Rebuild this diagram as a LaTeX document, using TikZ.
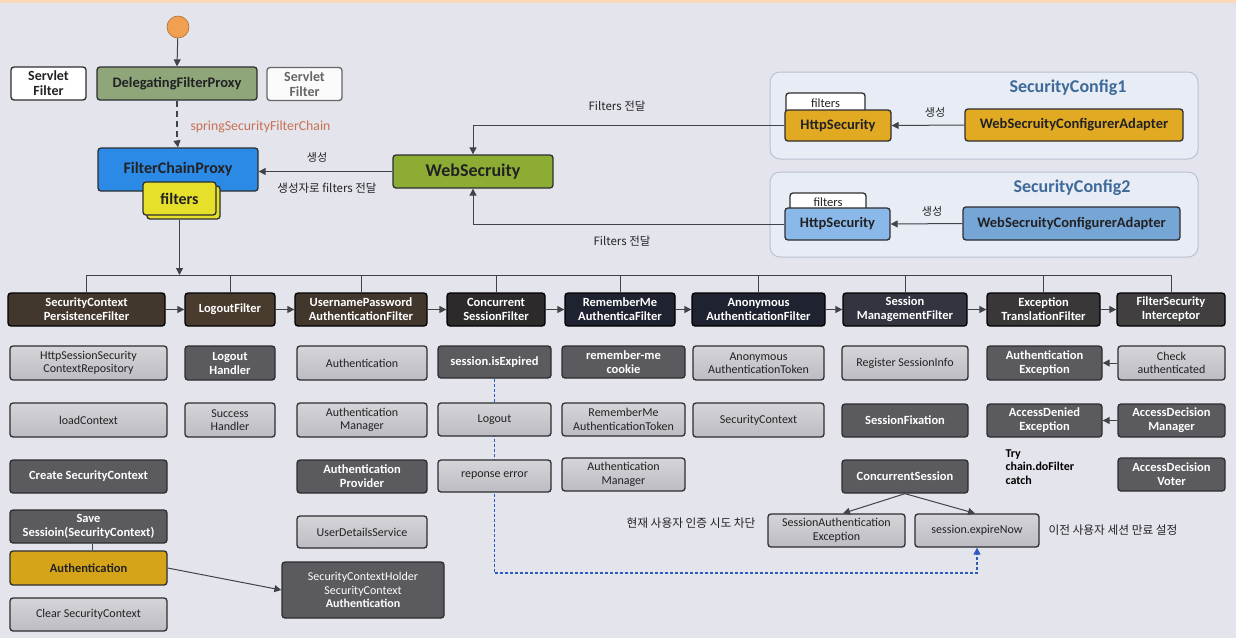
\documentclass[tikz,border=0pt]{standalone}
\usepackage{fontspec}
\setmainfont{Carlito}
\newfontfamily\kr{Noto Sans CJK KR}
\usetikzlibrary{arrows.meta,backgrounds,calc}
\definecolor{bgc}{HTML}{E4E4EC}
\definecolor{linec}{HTML}{404448}
\definecolor{borderc}{HTML}{2E2E30}
\definecolor{lightc}{HTML}{C6C6CB}
\definecolor{lighttop}{HTML}{D4D4D9}
\definecolor{lightbot}{HTML}{BCBCC2}
\definecolor{darkc}{HTML}{5A5A5F}
\definecolor{filterc}{HTML}{2C2A2A}
\definecolor{filterb}{HTML}{1F2230}
\definecolor{textc}{HTML}{222224}
\definecolor{dfpc}{HTML}{8EA67A}
\definecolor{fcpc}{HTML}{2B8AE6}
\definecolor{fltc}{HTML}{E6E02A}
\definecolor{wsc}{HTML}{8CAC34}
\definecolor{yelc}{HTML}{E2AA22}
\definecolor{authc}{HTML}{D6A418}
\definecolor{hs2c}{HTML}{8AB8E8}
\definecolor{wsca2c}{HTML}{76A6D6}
\definecolor{contc}{HTML}{E8ECF4}
\definecolor{contb}{HTML}{B8C2D2}
\definecolor{titlec}{HTML}{3D6A99}
\definecolor{sscc}{HTML}{C87052}
\definecolor{dashc}{HTML}{2A5CC0}
\definecolor{orangec}{HTML}{F0A050}
\newcommand\fsz[2]{\fontsize{#1}{#2}\selectfont}
\tikzset{
  wh/.style 2 args={minimum width=#1pt, minimum height=#2pt},
  base/.style={rounded corners=3pt, line width=1.3pt, inner sep=1pt, align=center, draw=borderc},
  lightbox/.style={base, top color=lighttop, bottom color=lightbot, text=textc, font=\fsz{12}{13.5}},
  darkbox/.style={base, fill=darkc, text=white, font=\bfseries\fsz{12.5}{14}},
  filterbox/.style={base, fill=filterc, draw=black, text=white, font=\bfseries\fsz{12.5}{14}},
  topbox/.style={base, text=textc, font=\bfseries\fsz{14.5}{16}},
  arr/.style={draw=linec, line width=1pt, -{Triangle[length=7pt,width=7pt]}},
  plain/.style={draw=linec, line width=1pt},
  krlabel/.style={font=\kr\fsz{11.5}{13}, text=textc},
}
\begin{document}
\begin{tikzpicture}[x=1pt,y=-1pt]
\useasboundingbox (0,0) rectangle (1236,638);
\begin{scope}[on background layer]
\fill[bgc] (0,0) rectangle (1236,638);
\fill[orangec!40] (0,0) rectangle (1236,3);
\end{scope}

% ---------- top left ----------
\node[circle, fill=orangec, draw=orangec!70!black, line width=0.6pt, minimum size=22pt, inner sep=0pt] (start) at (178,27) {};
\node[topbox, fill=white, wh={75}{33}, font=\bfseries\fsz{14}{15}] (sf1) at (48.5,83.5) {Servlet\\Filter};
\node[topbox, fill=dfpc, wh={160}{33}] (dfp) at (177,83.5) {DelegatingFilterProxy};
\node[topbox, fill=white!97!gray, draw=gray!80!black, text=gray!80!black, wh={75}{33}, font=\bfseries\fsz{14}{15}] (sf2) at (304.5,84) {Servlet\\Filter};
\node[topbox, fill=fcpc, wh={160}{43}, font=\bfseries\fsz{16}{18}] (fcp) at (178,169.5) {FilterChainProxy};
\node[topbox, fill=fltc, wh={73}{33}] (fltback) at (183.5,202.5) {};
\node[topbox, fill=fltc, wh={73}{33}, font=\bfseries\fsz{16}{18}] (flt) at (179.5,198.5) {filters};

\draw[arr] (start) -- (dfp.north);
\coordinate (dashend) at ($(dfp.south)+(0,40)$);
\draw[draw=linec, line width=2.6pt, dash pattern=on 6pt off 4pt] (dfp.south) -- (dashend);
\draw[arr] (dashend) -- (fcp.north);
\node[anchor=west, text=sscc, font=\fsz{13.8}{15}] (ssfc) at (187,127) {springSecurityFilterChain};

% ---------- WebSecurity ----------
\node[topbox, fill=wsc, wh={160}{33}, font=\bfseries\fsz{18}{20}] (ws) at (473,171.5) {WebSecruity};
\draw[arr] (ws.west) -- (ws.west -| fcp.east);
\node[krlabel, font=\kr\fsz{11}{13}] (lblgen) at (317,157) {생성};
\node[krlabel] (lblgen2) at (327,188) {생성자로 filters 전달};

% ---------- SecurityConfig1 ----------
\node[rounded corners=10pt, draw=contb, fill=contc, line width=1pt, minimum width=428pt, minimum height=87pt] (sc1) at (984,115.5) {};
\node[text=titlec, font=\bfseries\fsz{18}{20}] (sc1t) at (1068,88) {SecurityConfig1};
\node[base, fill=white, text=textc, font=\fsz{12.5}{14}, wh={79}{20}] (tab1) at (825.5,103) {filters};
\node[topbox, fill=yelc, wh={106}{31}] (hs1) at (838,125.5) {HttpSecurity};
\node[topbox, fill=yelc, wh={218}{32}] (wsca1) at (1074,125) {WebSecruityConfigurerAdapter};
\draw[arr] (wsca1.west) -- (hs1.east);
\node[krlabel, font=\kr\fsz{11}{13}] (lblg1) at (935,112) {생성};

% ---------- SecurityConfig2 ----------
\node[rounded corners=10pt, draw=contb, fill=contc, line width=1pt, minimum width=428pt, minimum height=85pt] (sc2) at (984,214.5) {};
\node[text=titlec, font=\bfseries\fsz{18}{20}] (sc2t) at (1072,188) {SecurityConfig2};
\node[base, fill=white, text=textc, font=\fsz{12.5}{14}, wh={76}{19}] (tab2) at (828,202.5) {filters};
\node[topbox, fill=hs2c, wh={105}{32}] (hs2) at (837.5,224) {HttpSecurity};
\node[topbox, fill=wsca2c, wh={217}{33}] (wsca2) at (1071.5,223.5) {WebSecruityConfigurerAdapter};
\draw[arr] (wsca2.west) -- (hs2.east);
\node[krlabel, font=\kr\fsz{11}{13}] (lblg2) at (932,211) {생성};

\draw[arr] (hs1.west) -| (ws.north);
\draw[arr] (hs2.west) -| (ws.south);
\node[krlabel] (fd1) at (617,106) {Filters 전달};
\node[krlabel] (fd2) at (622,241) {Filters 전달};

% ---------- filter chain ----------
\node[filterbox, wh={157}{33}, fill=filterc!85!brown] (f1) at (86.5,309.5) {SecurityContext\\PersistenceFilter};
\node[filterbox, wh={90}{33}, fill=filterc!80!brown] (f2) at (230,309.5) {LogoutFilter};
\node[filterbox, wh={132}{33}, fill=filterc!85!brown] (f3) at (361,309.5) {UsernamePassword\\AuthenticationFilter};
\node[filterbox, wh={98}{33}] (f4) at (496,309.5) {Concurrent\\SessionFilter};
\node[filterbox, wh={110}{33}, fill=filterb] (f5) at (620,309.5) {RememberMe\\AuthenticaFilter};
\node[filterbox, wh={133}{33}, fill=filterb] (f6) at (758.5,309.5) {Anonymous\\AuthenticationFilter};
\node[filterbox, wh={124}{33}, fill=filterb!80!gray] (f7) at (905,309.5) {Session\\ManagementFilter};
\node[filterbox, wh={113}{33}, fill=filterc!85!gray] (f8) at (1043.5,309.5) {Exception\\TranslationFilter};
\node[filterbox, wh={108}{33}, fill=filterc!75!gray] (f9) at (1171,309.5) {FilterSecurity\\Interceptor};
\foreach \a/\b in {f1/f2,f2/f3,f3/f4,f4/f5,f5/f6,f6/f7,f7/f8,f8/f9}
  \draw[arr] (\a.east) -- (\b.west);

\coordinate (busL) at (86.5,275);
\coordinate (busR) at (1171,275);
\draw[plain] (busL) -- (busR);
\foreach \f in {f1,f2,f3,f4,f5,f6,f7,f8,f9}
  \draw[plain] (\f.north) -- (\f.north |- busL);
\draw[arr] (flt.south |- fltback.south) -- (flt.south |- busL);

% ---------- column 1 ----------
\node[lightbox, wh={157}{34}] (a1) at (88.5,363) {HttpSessionSecurity\\ContextRepository};
\node[lightbox, wh={157}{34}] (a2) at (88.5,420) {loadContext};
\node[darkbox, wh={157}{33}] (a3) at (88.5,476.5) {Create SecurityContext};
\node[darkbox, wh={157}{33}] (a4) at (88.5,526.5) {Save\\Sessioin(SecurityContext)};
\node[base, fill=authc, text=textc, font=\bfseries\fsz{12.5}{14}, wh={157}{34}] (a5) at (88.5,568) {Authentication};
\node[lightbox, wh={157}{33}] (a6) at (88.5,614.5) {Clear SecurityContext};
\draw[plain] (a4.south -| 92,0) -- (a5.north -| 92,0);

% ---------- column 2 ----------
\node[darkbox, wh={90}{34}] (b1) at (230,363) {Logout\\Handler};
\node[lightbox, wh={90}{34}] (b2) at (230,420) {Success\\Handler};

% ---------- column 3 ----------
\node[lightbox, wh={130}{34}] (c1) at (362,363) {Authentication};
\node[lightbox, wh={130}{34}] (c2) at (362,420) {Authentication\\Manager};
\node[darkbox, wh={130}{33}] (c3) at (362,476.5) {Authentication\\Provider};
\node[lightbox, wh={130}{32}] (c4) at (362,532) {UserDetailsService};
\node[base, fill=darkc, text=white, font=\fsz{12}{13.5}, wh={162}{56}] (sch) at (363,590) {SecurityContextHolder\\SecurityContext\\\textbf{Authentication}};
\draw[arr] (a5.east) -- (sch.west);

% ---------- column 4 ----------
\node[darkbox, wh={113}{32}] (d1) at (494.5,362) {session.isExpired};
\node[lightbox, wh={113}{33}] (d2) at (494.5,419.5) {Logout};
\node[lightbox, wh={113}{32}] (d3) at (494.5,476) {reponse error};

% ---------- column 5 ----------
\node[darkbox, wh={123}{32}] (e1) at (623.5,362) {remember-me\\cookie};
\node[lightbox, wh={123}{33}] (e2) at (623.5,419.5) {RememberMe\\AuthenticationToken};
\node[lightbox, wh={123}{33}] (e3) at (623.5,474.5) {Authentication\\Manager};

% ---------- column 6 ----------
\node[lightbox, wh={131}{34}] (g1) at (758.5,363) {Anonymous\\AuthenticationToken};
\node[lightbox, wh={131}{34}] (g2) at (758.5,420) {SecurityContext};

% ---------- column 7 ----------
\node[lightbox, wh={126}{34}] (h1) at (905,363) {Register SessionInfo};
\node[darkbox, wh={126}{33}] (h2) at (905,420.5) {SessionFixation};
\node[darkbox, wh={126}{33}] (h3) at (905,476.5) {ConcurrentSession};
\node[lightbox, wh={137}{33}] (sae) at (836.5,530.5) {SessionAuthentication\\Exception};
\node[lightbox, wh={124}{33}] (sen) at (977,530.5) {session.expireNow};
\draw[arr] (h3.south) -- (sae.north -| 843,0);
\draw[arr] (h3.south) -- (sen.north -| 975,0);
\node[krlabel, anchor=east, font=\kr\fsz{11.7}{13}] (lblcur) at (759,523) {현재 사용자 인증 시도 차단};
\node[krlabel, anchor=west, font=\kr\fsz{11.7}{13}] (lblprev) at (1045,530) {이전 사용자 세션 만료 설정};

% ---------- column 8 ----------
\node[darkbox, wh={115}{34}] (k1) at (1044.5,363) {Authentication\\Exception};
\node[darkbox, wh={115}{33}] (k2) at (1044.5,420.5) {AccessDenied\\Exception};
\node[anchor=north west, align=left, text=black, font=\bfseries\fsz{12}{13.5}] (try) at (1002,446) {Try\\chain.doFilter\\catch};

% ---------- column 9 ----------
\node[lightbox, wh={107}{34}] (m1) at (1171.5,363) {Check\\authenticated};
\node[darkbox, wh={107}{33}] (m2) at (1171.5,420.5) {AccessDecision\\Manager};
\node[darkbox, wh={107}{33}] (m3) at (1171.5,474.5) {AccessDecision\\Voter};
\draw[arr] (m1.west) -- (k1.east);
\draw[arr] (m2.west) -- (k2.east);

% ---------- dashed expire path (behind boxes) ----------
\begin{scope}[on background layer]
\coordinate (dcorner) at (494.5,573);
\draw[draw=dashc, line width=1.2pt, dash pattern=on 3pt off 2pt, -{Triangle[length=7pt,width=7pt]}] (d1.south) -- (dcorner) -| (sen.south);
\end{scope}
\end{tikzpicture}
\end{document}
